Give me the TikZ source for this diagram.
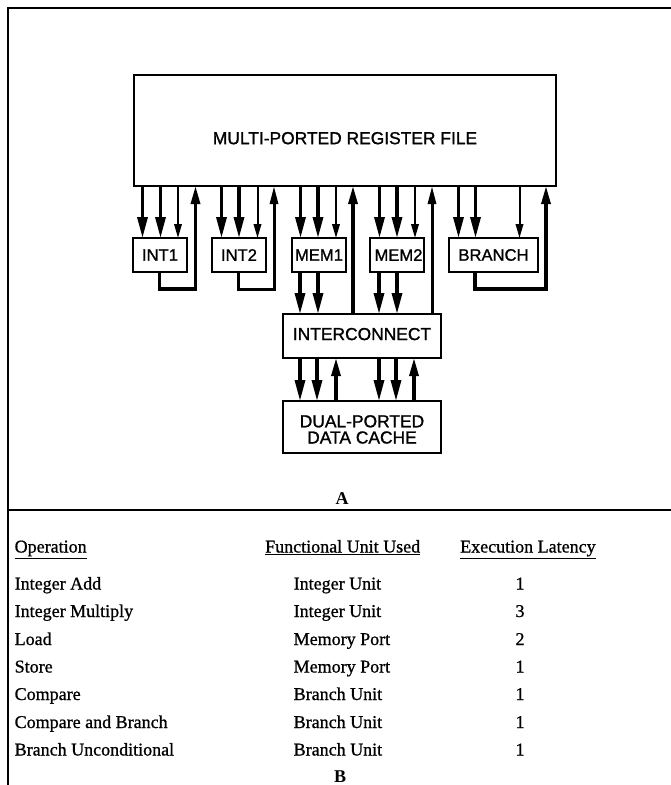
\documentclass[tikz,border=0pt]{standalone}
\usepackage{fontspec}
\setmainfont{Liberation Serif}
\setsansfont{Liberation Sans}
\newfontfamily\serifheavy{Liberation Serif}[FakeBold=0.9]
\newfontfamily\sansheavy{Liberation Sans}[FakeBold=1.2]
\newfontfamily\serifbold{Liberation Serif Bold}
\usetikzlibrary{arrows.meta}
\tikzset{
  unitbox/.style={draw=black,line width=2pt,outer sep=0pt,inner sep=0pt,align=center,
    font=\sansheavy\fontsize{16.6}{16.2}\selectfont},
  bigbox/.style={unitbox,font=\sansheavy\fontsize{17.4}{16.2}\selectfont},
  downthick/.style={line width=3.2pt,-{Triangle[length=21pt,width=10pt]}},
  downthin/.style={line width=2pt,-{Triangle[length=14pt,width=7.5pt]}},
  upthick/.style={line width=3.2pt,miter limit=10,-{Triangle[length=18pt,width=9pt]}},
  upthin/.style={line width=3pt,miter limit=10,-{Triangle[length=18pt,width=8pt]}},
  framerule/.style={line width=1.7pt},
  cell/.style={anchor=base west,inner sep=0pt,font=\serifheavy\fontsize{18}{20}\selectfont},
  num/.style={anchor=base,inner sep=0pt,font=\serifheavy\fontsize{18}{20}\selectfont},
  caption/.style={anchor=base,inner sep=0pt,font=\serifbold\fontsize{18}{20}\selectfont}
}
\begin{document}
\begin{tikzpicture}[x=1pt,y=-1pt]
\useasboundingbox (0,0) rectangle (671,785);
% frame
\draw[framerule] (8,785) -- (8,8) -- (671,8);
\draw[framerule] (8,510) -- (671,510);
% boxes
\node[bigbox,minimum width=422pt,minimum height=111pt] (reg) at (345,130.5) {\rule{0pt}{27.5pt}MULTI-PORTED REGISTER FILE};
\node[unitbox,minimum width=54pt,minimum height=34pt] (int1) at (160,255) {INT1};
\node[unitbox,minimum width=54pt,minimum height=34pt] (int2) at (239,255) {INT2};
\node[unitbox,minimum width=54pt,minimum height=34pt] (mem1) at (319,255) {MEM1};
\node[unitbox,minimum width=54pt,minimum height=34pt] (mem2) at (397,255) {\hspace{3pt}MEM2};
\node[unitbox,minimum width=89pt,minimum height=34pt] (branch) at (493.5,255) {BRANCH};
\node[bigbox,minimum width=158pt,minimum height=44pt] (inter) at (362,336) {\rule[-4pt]{0pt}{4pt}INTERCONNECT};
\node[bigbox,minimum width=158pt,minimum height=52pt] (cache) at (362,427) {\rule{0pt}{17pt}DUAL-PORTED\\DATA CACHE};
% register file to units
\foreach \x in {142.5,160.5} \draw[downthick] (\x,0 |- reg.south) -- (\x,0 |- int1.north);
\draw[downthin] (178,0 |- reg.south) -- (178,0 |- int1.north);
\foreach \x in {221.5,239} \draw[downthick] (\x,0 |- reg.south) -- (\x,0 |- int2.north);
\draw[downthin] (257.5,0 |- reg.south) -- (257.5,0 |- int2.north);
\foreach \x in {300.5,318} \draw[downthick] (\x,0 |- reg.south) -- (\x,0 |- mem1.north);
\draw[downthin] (336,0 |- reg.south) -- (336,0 |- mem1.north);
\foreach \x in {379.5,397} \draw[downthick] (\x,0 |- reg.south) -- (\x,0 |- mem2.north);
\draw[downthin] (415,0 |- reg.south) -- (415,0 |- mem2.north);
\foreach \x in {458.5,475.5} \draw[downthick] (\x,0 |- reg.south) -- (\x,0 |- branch.north);
\draw[downthin] (519.5,0 |- reg.south) -- (519.5,0 |- branch.north);
% unit feedback
\draw[upthick] (159.5,0 |- int1.south) -- (159.5,289) -- (195.5,289) -- (195.5,0 |- reg.south);
\draw[upthin] (238,0 |- int2.south) -- (238,289) -- (274,289) -- (274,0 |- reg.south);
\draw[upthick] (475,0 |- branch.south) -- (475,289) -- (546,289) -- (546,0 |- reg.south);
% memory units to interconnect
\foreach \x in {300,318} \draw[downthick] (\x,0 |- mem1.south) -- (\x,0 |- inter.north);
\foreach \x in {379,397} \draw[downthick] (\x,0 |- mem2.south) -- (\x,0 |- inter.north);
\draw[upthick] (353,0 |- inter.north) -- (353,0 |- reg.south);
\draw[upthin] (432,0 |- inter.north) -- (432,0 |- reg.south);
% interconnect and cache
\foreach \x in {300,317,379,396} \draw[downthick] (\x,0 |- inter.south) -- (\x,0 |- cache.north);
\foreach \x in {336,414} \draw[upthick] (\x,0 |- cache.north) -- (\x,0 |- inter.south);
% captions
\node[caption] (capA) at (342,504) {A};
\node[caption] (capB) at (340,782) {B};
% table
\node[cell] (h1) at (14.5,552.5) {\underline{Operation}};
\node[cell] (h2) at (265,552.5) {\underline{Functional Unit Used}};
\node[cell] (h3) at (460,552.5) {\underline{Execution Latency}};
\node[cell] (a1) at (14.5,589.5) {Integer Add};
\node[cell] (b1) at (293.5,589.5) {Integer Unit};
\node[num]  (c1) at (520,589.5) {1};
\node[cell] (a2) at (14.5,617) {Integer Multiply};
\node[cell] (b2) at (293.5,617) {Integer Unit};
\node[num]  (c2) at (520,617) {3};
\node[cell] (a3) at (14.5,645) {Load};
\node[cell] (b3) at (293.5,645) {Memory Port};
\node[num]  (c3) at (520,645) {2};
\node[cell] (a4) at (14.5,672.5) {Store};
\node[cell] (b4) at (293.5,672.5) {Memory Port};
\node[num]  (c4) at (520,672.5) {1};
\node[cell] (a5) at (14.5,700) {Compare};
\node[cell] (b5) at (293.5,700) {Branch Unit};
\node[num]  (c5) at (520,700) {1};
\node[cell] (a6) at (14.5,728) {Compare and Branch};
\node[cell] (b6) at (293.5,728) {Branch Unit};
\node[num]  (c6) at (520,728) {1};
\node[cell] (a7) at (14.5,755.5) {Branch Unconditional};
\node[cell] (b7) at (293.5,755.5) {Branch Unit};
\node[num]  (c7) at (520,755.5) {1};
\end{tikzpicture}
\end{document}
